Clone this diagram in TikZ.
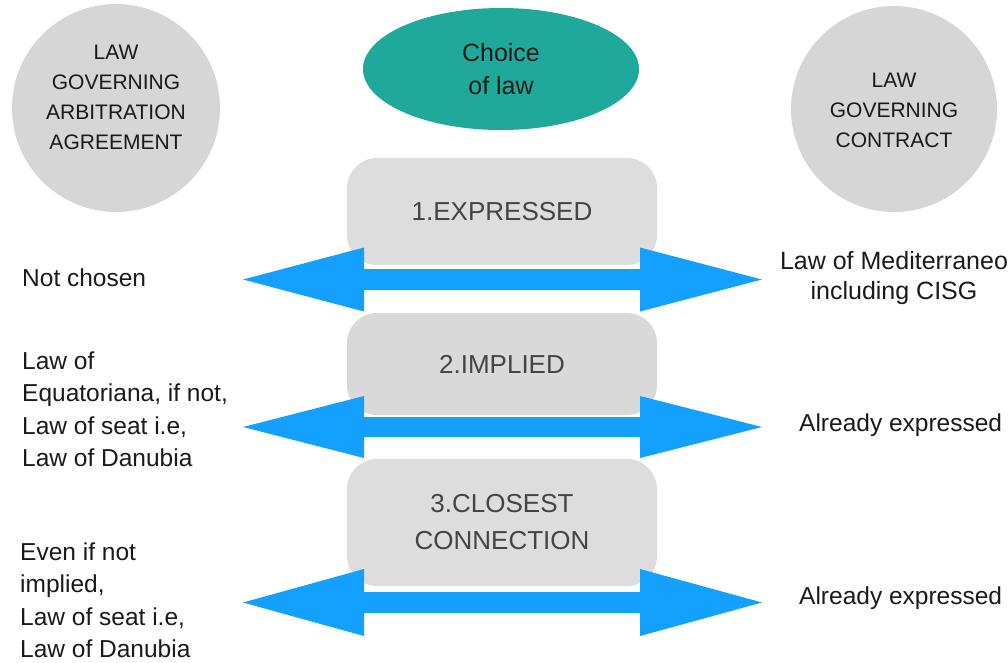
\documentclass[tikz,border=0pt]{standalone}
\usepackage{fontspec}
\setmainfont{Liberation Sans}
\usetikzlibrary{shapes.geometric}
\definecolor{circgray}{RGB}{214,214,214}
\definecolor{boxgray}{RGB}{221,221,221}
\definecolor{tealc}{RGB}{31,169,154}
\definecolor{arrblue}{RGB}{20,160,255}
\definecolor{txt}{RGB}{26,26,26}
\definecolor{boxtxt}{RGB}{68,68,68}
\tikzset{
  bigcirc/.style={circle, fill=circgray, minimum size=208pt, inner sep=0pt},
  circtext/.style={align=center, text=txt, font=\fontsize{21}{30}\selectfont, inner sep=0pt},
  stagebox/.style={rounded corners=30pt, fill=boxgray, minimum width=310pt, inner sep=0pt, text=boxtxt, align=center, font=\fontsize{26}{37}\selectfont},
  sidetext/.style={align=left, text=txt, font=\fontsize{24.5}{32.5}\selectfont, inner sep=0pt, anchor=west},
  rtext/.style={align=center, text=txt, font=\fontsize{25}{30}\selectfont, inner sep=0pt},
  dblarrow/.style={fill=arrblue, draw=none}
}
\newcommand{\dblarr}[3]{% center y, shaft half, head half
  \fill[dblarrow] (243,#1) -- (364,#1-#3) -- (364,#1-#2) -- (640,#1-#2) -- (640,#1-#3)
    -- (762,#1) -- (640,#1+#3) -- (640,#1+#2) -- (364,#1+#2) -- (364,#1+#3) -- cycle;}
\begin{document}
\begin{tikzpicture}[x=1pt,y=-1pt]
\useasboundingbox (0,0) rectangle (1008,662);
% circles
\node[bigcirc] (lc) at (116,108) {};
\node[circtext] (lct) at (116,97) {LAW\\GOVERNING\\ARBITRATION\\AGREEMENT};
\node[bigcirc, minimum size=206pt] (rc) at (894,109) {};
\node[circtext] (rct) at (894,110) {LAW\\GOVERNING\\CONTRACT};
% choice of law
\node[ellipse, fill=tealc, minimum width=276pt, minimum height=122pt, inner sep=0pt,
  align=center, text=txt, font=\fontsize{25}{33}\selectfont] (col) at (501,69) {Choice\\of law};
% stage boxes
\node[stagebox, minimum height=107pt] (b1) at (502,211.5) {1.EXPRESSED};
\node[stagebox, minimum height=102pt, fill={rgb,255:red,217;green,217;blue,217}] (b2) at (502,364) {2.IMPLIED};
\node[stagebox, minimum height=127pt] (b3) at (502,522.5) {3.CLOSEST\\CONNECTION};
% arrows
\dblarr{279.5}{10.5}{32}
\dblarr{427}{10}{31}
\dblarr{602.5}{10.5}{33.5}
% left texts
\node[sidetext] (l1) at (22,278) {Not chosen};
\node[sidetext] (l2) at (22,409) {Law of\\Equatoriana, if not,\\Law of seat i.e,\\Law of Danubia};
\node[sidetext] (l3) at (20,600) {Even if not\\implied,\\Law of seat i.e,\\Law of Danubia};
% right texts
\node[rtext] (r1) at (894,278) {Law of Mediterraneo\\including CISG};
\node[sidetext] (r2) at (799,425) {Already expressed};
\node[sidetext] (r3) at (799,598) {Already expressed};
\end{tikzpicture}
\end{document}
